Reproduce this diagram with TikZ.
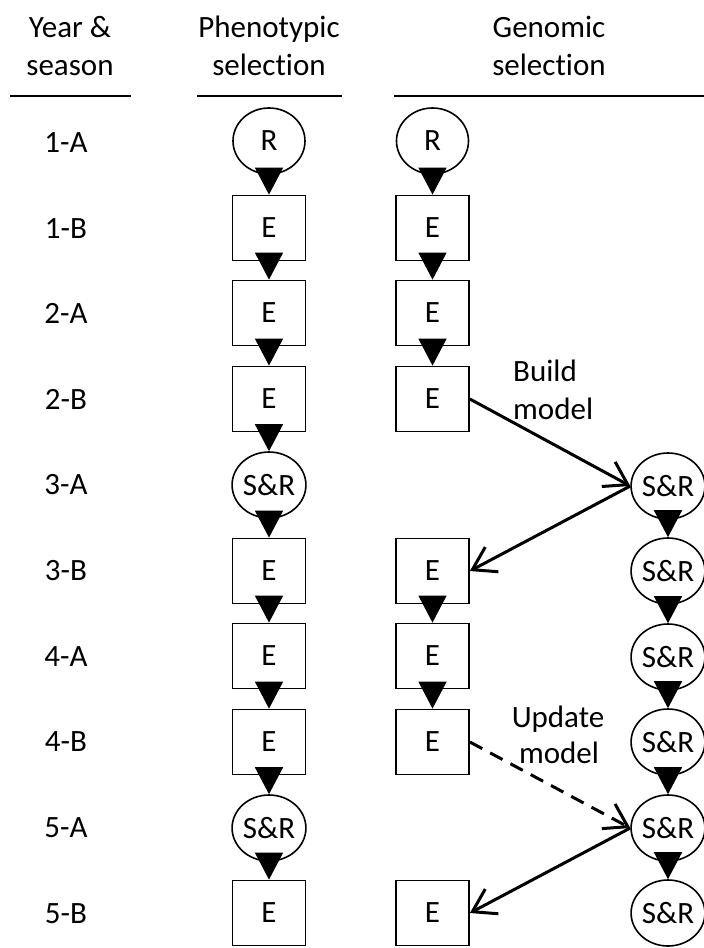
\documentclass[tikz,border=0pt]{standalone}
\usepackage{fontspec}
\setmainfont{Carlito}[Ligatures=NoCommon]
\usetikzlibrary{arrows.meta,shapes.geometric}
\begin{document}
\begin{tikzpicture}[x=1pt,y=-1pt,
  font=\fontsize{31pt}{38pt}\selectfont,
  txt/.style={inner sep=0pt,anchor=base},
  box/.style={draw,line width=1.8pt,fill=white,minimum width=73pt,minimum height=65pt,inner sep=0pt},
  oval/.style={draw,ellipse,line width=1.6pt,fill=white,minimum width=72pt,minimum height=66pt,inner sep=0pt},
  varrow/.style={line width=1.6pt,-{Triangle[length=27pt,width=28pt]}},
  darrow/.style={line width=3pt,-{Straight Barb[length=22pt,width=28pt,line width=3pt]}},
  rule/.style={line width=2.5pt}]
\useasboundingbox (0,0) rectangle (704,948);

% headers
\node[txt] (h1a) at (70,37) {Year \&};
\node[txt] (h1b) at (70,75) {season};
\node[txt] (h2a) at (269,37) {Phenotypic};
\node[txt] (h2b) at (269,75) {selection};
\node[txt] (h3a) at (549,37) {Genomic};
\node[txt] (h3b) at (549,75) {selection};
\draw[rule] (10,96) -- (131,96);
\draw[rule] (197,96) -- (342,96);
\draw[rule] (394,96) -- (704,96);

% row labels
\node[txt] (r1) at (66,152) {1-A};
\node[txt] (r2) at (66,238) {1-B};
\node[txt] (r3) at (66,323) {2-A};
\node[txt] (r4) at (66,409) {2-B};
\node[txt] (r5) at (66,494) {3-A};
\node[txt] (r6) at (66,580) {3-B};
\node[txt] (r7) at (66,666) {4-A};
\node[txt] (r8) at (66,751) {4-B};
\node[txt] (r9) at (66,837) {5-A};
\node[txt] (r10) at (66,923) {5-B};

% phenotypic column
\node[oval] (p1) at (269,141) {R};
\node[box]  (p2) at (269,228) {E};
\node[box]  (p3) at (269,313) {E};
\node[box]  (p4) at (269,399) {E};
\node[oval] (p5) at (269,485) {S\&R};
\node[box]  (p6) at (269,571) {E};
\node[box]  (p7) at (269,656) {E};
\node[box]  (p8) at (269,742) {E};
\node[oval] (p9) at (269,828) {S\&R};
\node[box]  (p10) at (269,913) {E};

% genomic column
\node[oval] (g1) at (432.5,141) {R};
\node[box]  (g2) at (432.5,228) {E};
\node[box]  (g3) at (432.5,313) {E};
\node[box]  (g4) at (432.5,399) {E};
\node[box]  (g6) at (432.5,571) {E};
\node[box]  (g7) at (432.5,656) {E};
\node[box]  (g8) at (432.5,742) {E};
\node[box]  (g10) at (432.5,913) {E};

% right S&R column
\node[oval,minimum width=71pt] (s5) at (668,486) {S\&R};
\node[oval,minimum width=71pt] (s6) at (668,571) {S\&R};
\node[oval,minimum width=71pt] (s7) at (668,657) {S\&R};
\node[oval,minimum width=71pt] (s8) at (668,742) {S\&R};
\node[oval,minimum width=71pt] (s9) at (668,828) {S\&R};
\node[oval,minimum width=71pt] (s10) at (668,913) {S\&R};

% vertical arrows
\foreach \a/\b in {p1/p2,p2/p3,p3/p4,p4/p5,p5/p6,p6/p7,p7/p8,p8/p9,p9/p10,
                   g1/g2,g2/g3,g3/g4,g6/g7,g7/g8,
                   s5/s6,s6/s7,s7/s8,s8/s9,s9/s10}
  \draw[varrow] (\a.south) -- (\b.north);

% model arrows
\draw[darrow] (g4.east) -- (s5.west);
\draw[darrow] (s5.west) -- (g6.east);
\draw[darrow,dash pattern=on 14pt off 9pt] (g8.east) -- (s9.west);
\draw[darrow] (s9.west) -- (g10.east);

% labels
\node[txt,anchor=base west] (bm1) at (513,381) {Build};
\node[txt,anchor=base west] (bm2) at (513,419) {model};
\node[txt] (um1) at (558,727) {Update};
\node[txt] (um2) at (559,763) {model};
\end{tikzpicture}
\end{document}
